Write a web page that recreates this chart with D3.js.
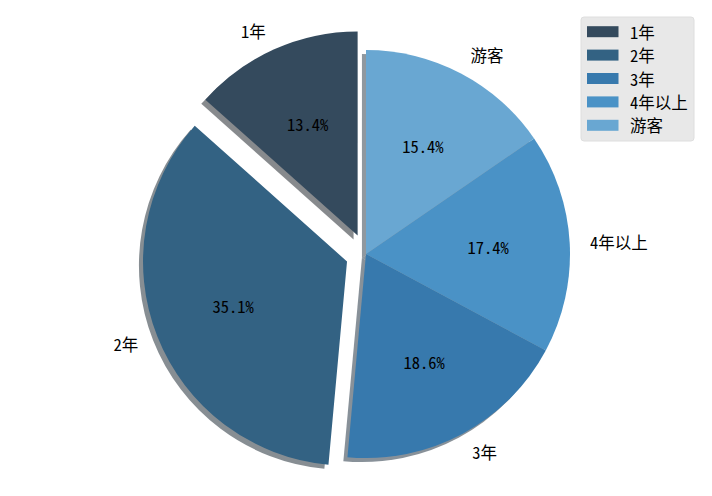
<!DOCTYPE html>
<html>
<head>
<meta charset="utf-8">
<script src="https://cdn.jsdelivr.net/npm/d3@7"></script>
<style>
  html, body { margin: 0; padding: 0; background: #fff; }
  svg { display: block; }
  text { font-family: "Noto Sans Mono CJK SC", "Noto Sans CJK SC", "Noto Sans", sans-serif; }
</style>
</head>
<body>
<svg id="chart" width="712" height="496"></svg>
<script>
// ---- data ----
const categories = ["1年", "2年", "3年", "4年以上", "游客"];
const values = [13.4, 35.1, 18.6, 17.4, 15.4];
const explode = [0.1, 0.1, 0, 0, 0];
const colors = ["#344a5d", "#336283", "#3779ad", "#4a92c6", "#69a7d2"];

// ---- layout ----
const W = 712, H = 496;
const cx = 366, cy = 254, R = 204;
const fontSize = 16.5;

const svg = d3.select("#chart");

const total = d3.sum(values);
// matplotlib: start at 90deg, counterclockwise
let cum = 0;
const slices = values.map((v, i) => {
  const a0 = -cum / total * 2 * Math.PI;
  cum += v;
  const a1 = -cum / total * 2 * Math.PI;
  const mid = (a0 + a1) / 2;
  const ex = explode[i] * R;
  return {
    i, v, start: a1, end: a0, mid,
    ox: cx + Math.sin(mid) * ex,
    oy: cy - Math.cos(mid) * ex
  };
});

const arc = d3.arc().innerRadius(0).outerRadius(R);
const shadowOff = 0.02 * R;

// shadows first
const gShadow = svg.append("g");
slices.forEach(s => {
  const c = d3.rgb(colors[s.i]);
  gShadow.append("path")
    .attr("d", arc({startAngle: s.start, endAngle: s.end}))
    .attr("transform", `translate(${s.ox - shadowOff},${s.oy + shadowOff})`)
    .attr("fill", d3.rgb(c.r * 0.3, c.g * 0.3, c.b * 0.3))
    .attr("fill-opacity", 0.5);
});

// wedges
const gWedge = svg.append("g");
slices.forEach(s => {
  gWedge.append("path")
    .attr("d", arc({startAngle: s.start, endAngle: s.end}))
    .attr("transform", `translate(${s.ox},${s.oy})`)
    .attr("fill", colors[s.i]);
});

// labels
const gText = svg.append("g");
slices.forEach(s => {
  const lx = s.ox + Math.sin(s.mid) * R * 1.1;
  const ly = s.oy - Math.cos(s.mid) * R * 1.1;
  gText.append("text")
    .attr("x", lx).attr("y", ly)
    .attr("text-anchor", Math.sin(s.mid) < 0 ? "end" : "start")
    .attr("dominant-baseline", "central")
    .attr("font-size", fontSize)
    .attr("fill", "#000")
    .text(categories[s.i]);
  const px = s.ox + Math.sin(s.mid) * R * 0.6;
  const py = s.oy - Math.cos(s.mid) * R * 0.6;
  gText.append("text")
    .attr("x", px).attr("y", py)
    .attr("text-anchor", "middle")
    .attr("dominant-baseline", "central")
    .attr("font-size", fontSize)
    .attr("fill", "#000")
    .text(d3.format(".1f")(s.v / total * 100) + "%");
});

// legend
const lg = svg.append("g").attr("transform", "translate(581,17)");
lg.append("rect")
  .attr("width", 113).attr("height", 124)
  .attr("rx", 3)
  .attr("fill", "#e8e8e8")
  .attr("stroke", "#dedede")
  .attr("stroke-width", 1);
const rowY = d3.scaleLinear().domain([0, categories.length - 1]).range([14.7, 108.3]);
categories.forEach((c, i) => {
  lg.append("rect")
    .attr("x", 6).attr("y", rowY(i) - 5.5)
    .attr("width", 31.5).attr("height", 11)
    .attr("fill", colors[i]);
  lg.append("text")
    .attr("x", 49).attr("y", rowY(i))
    .attr("dominant-baseline", "central")
    .attr("font-size", fontSize)
    .attr("fill", "#000")
    .text(c);
});
</script>
</body>
</html>
